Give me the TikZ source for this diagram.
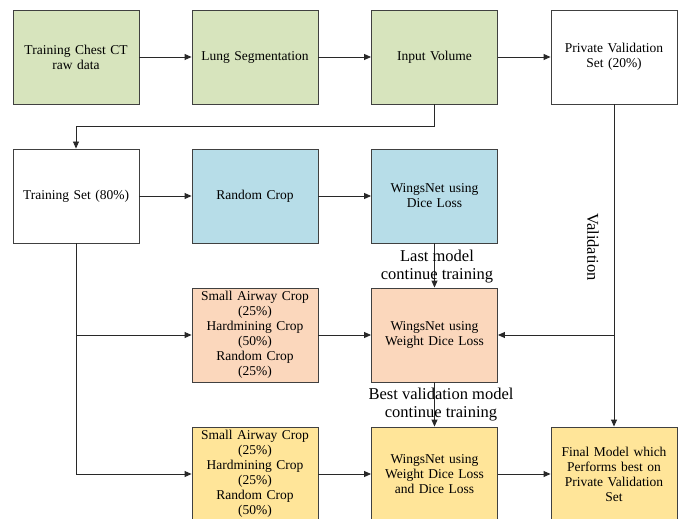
\documentclass[tikz,border=0pt]{standalone}
\usepackage{fontspec}
\setmainfont{Liberation Serif}
\usetikzlibrary{arrows.meta}
\definecolor{cgreen}{RGB}{215,228,189}
\definecolor{cblue}{RGB}{183,221,232}
\definecolor{corange}{RGB}{251,215,188}
\definecolor{cyellow}{RGB}{255,229,153}
\definecolor{cedge}{RGB}{64,64,64}
\definecolor{cline}{RGB}{40,40,40}
\tikzset{
  box/.style={draw=cedge, line width=0.9pt, minimum width=126pt, minimum height=94pt,
    inner sep=1pt, align=center, font=\fontsize{13.5}{15}\selectfont, text width=122pt},
  conn/.style={draw=cline, line width=0.9pt, -{Triangle[length=7pt,width=6pt]}},
  plain/.style={draw=cline, line width=0.9pt},
  lbl/.style={align=center, font=\fontsize{16.5}{18}\selectfont}
}
\begin{document}
\begin{tikzpicture}[x=1pt,y=-1pt]
\clip (0,0) rectangle (681,519);
\fill[white] (0,0) rectangle (681,519);
% row 1
\node[box, fill=cgreen] (raw) at (76,57) {Training Chest CT\\raw data};
\node[box, fill=cgreen] (lung) at (255,57) {Lung Segmentation};
\node[box, fill=cgreen] (input) at (434.5,57) {Input Volume};
\node[box, fill=white] (pval) at (614,57) {Private Validation\\Set (20\%)};
% row 2
\node[box, fill=white] (train) at (76,196) {Training Set (80\%)};
\node[box, fill=cblue] (rc) at (255,196) {Random Crop};
\node[box, fill=cblue] (wd) at (434.5,196) {WingsNet using\\Dice Loss};
% row 3
\node[box, fill=corange] (mix1) at (255,335) {Small Airway Crop\\(25\%)\\Hardmining Crop\\(50\%)\\Random Crop\\(25\%)};
\node[box, fill=corange] (ww) at (434.5,335) {WingsNet using\\Weight Dice Loss};
% row 4
\node[box, fill=cyellow] (mix2) at (255,474) {Small Airway Crop\\(25\%)\\Hardmining Crop\\(25\%)\\Random Crop\\(50\%)};
\node[box, fill=cyellow] (wwd) at (434.5,474) {WingsNet using\\Weight Dice Loss\\and Dice Loss};
\node[box, fill=cyellow] (final) at (614,474) {Final Model which\\Performs best on\\Private Validation\\Set};
% coordinates
\coordinate (c1) at (434.5,126);
\coordinate (c2) at (76,126);
\coordinate (b3) at (76,335);
\coordinate (b4) at (76,474);
\coordinate (v3) at (614,335);
% connectors
\draw[conn] (raw) -- (lung);
\draw[conn] (lung) -- (input);
\draw[conn] (input) -- (pval);
\draw[conn] (input.south) -- (c1) -- (c2) -- (train.north);
\draw[conn] (train) -- (rc);
\draw[conn] (rc) -- (wd);
\draw[plain] (train.south) -- (b4);
\draw[conn] (b3) -- (mix1);
\draw[conn] (b4) -- (mix2);
\draw[conn] (mix1) -- (ww);
\draw[conn] (mix2) -- (wwd);
\draw[conn] (wwd) -- (final);
\draw[conn] (wd) -- (ww);
\draw[conn] (ww) -- (wwd);
\draw[conn] (pval) -- (final);
\draw[conn] (v3) -- (ww.east);
% labels
\node[lbl] (l1) at (437,267) {Last model\\continue training};
\node[lbl] (l2) at (441,405) {Best validation model\\continue training};
\node[lbl, rotate=-90] (lv) at (593,247) {Validation};
\end{tikzpicture}
\end{document}
